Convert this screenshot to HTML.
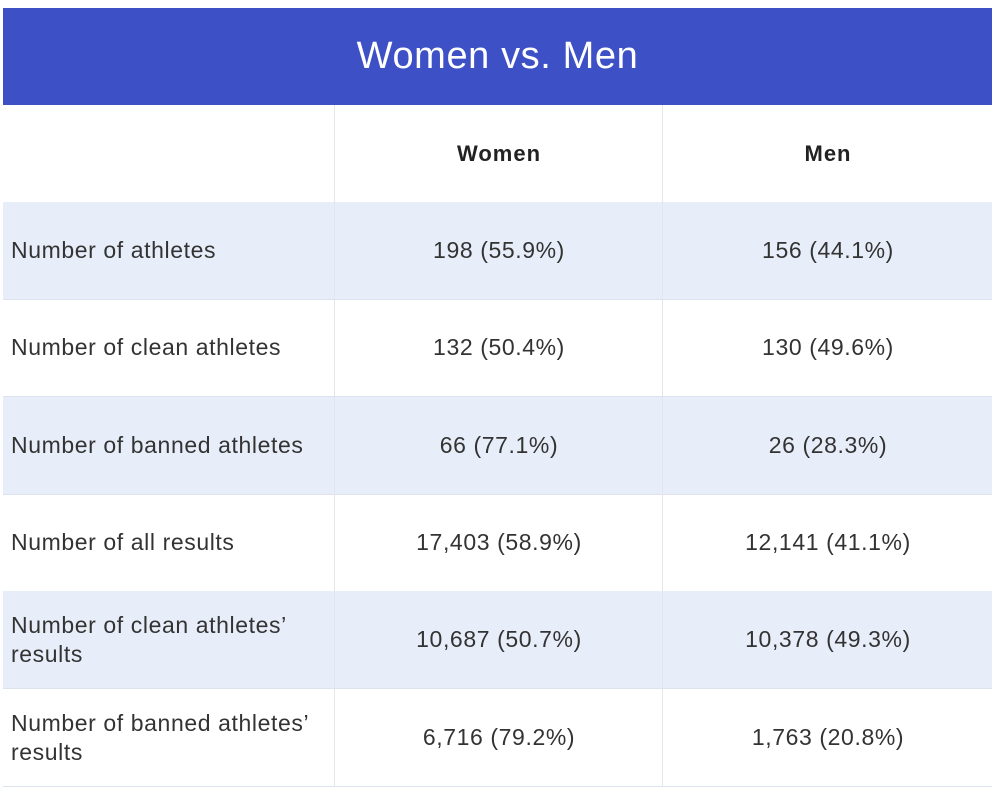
<!DOCTYPE html>
<html><head><style>
body{margin:0;width:1000px;height:808px;background:#fff;font-family:"Liberation Sans",sans-serif;position:relative;overflow:hidden}
.h{position:absolute;left:3px;top:8px;width:989px;height:97px;background:#3d50c6;color:#fff;font-size:38px;letter-spacing:0.6px;text-align:center;line-height:97px}
.r{position:absolute;left:3px;width:989px;border-bottom:1px solid #dde3ee}
.b{background:#e8eef9}
.c{position:absolute;top:0;height:100%;display:flex;align-items:center;font-size:23px;letter-spacing:0.6px;color:#333}
.c1{left:8px;width:320px;line-height:29px}
.c2{left:331px;width:328px;justify-content:center;border-left:1px solid #e4e6ea}
.c3{left:659px;width:330px;justify-content:center;border-left:1px solid #e4e6ea}
.hd{font-weight:bold;font-size:22px;letter-spacing:1px;color:#222}
</style></head><body>
<div class="h">Women vs. Men</div>
<div class="r" style="top:105px;height:97px"><div class="c c2 hd">Women</div><div class="c c3 hd">Men</div></div>
<div class="r b" style="top:202px;height:97px"><div class="c c1">Number of athletes</div><div class="c c2">198 (55.9%)</div><div class="c c3">156 (44.1%)</div></div>
<div class="r" style="top:299px;height:97px"><div class="c c1">Number of clean athletes</div><div class="c c2">132 (50.4%)</div><div class="c c3">130 (49.6%)</div></div>
<div class="r b" style="top:397px;height:97px"><div class="c c1">Number of banned athletes</div><div class="c c2">66 (77.1%)</div><div class="c c3">26 (28.3%)</div></div>
<div class="r" style="top:494px;height:97px"><div class="c c1">Number of all results</div><div class="c c2">17,403 (58.9%)</div><div class="c c3">12,141 (41.1%)</div></div>
<div class="r b" style="top:591px;height:97px"><div class="c c1">Number of clean athletes’<br>results</div><div class="c c2">10,687 (50.7%)</div><div class="c c3">10,378 (49.3%)</div></div>
<div class="r" style="top:689px;height:97px"><div class="c c1">Number of banned athletes’<br>results</div><div class="c c2">6,716 (79.2%)</div><div class="c c3">1,763 (20.8%)</div></div>
</body></html>
